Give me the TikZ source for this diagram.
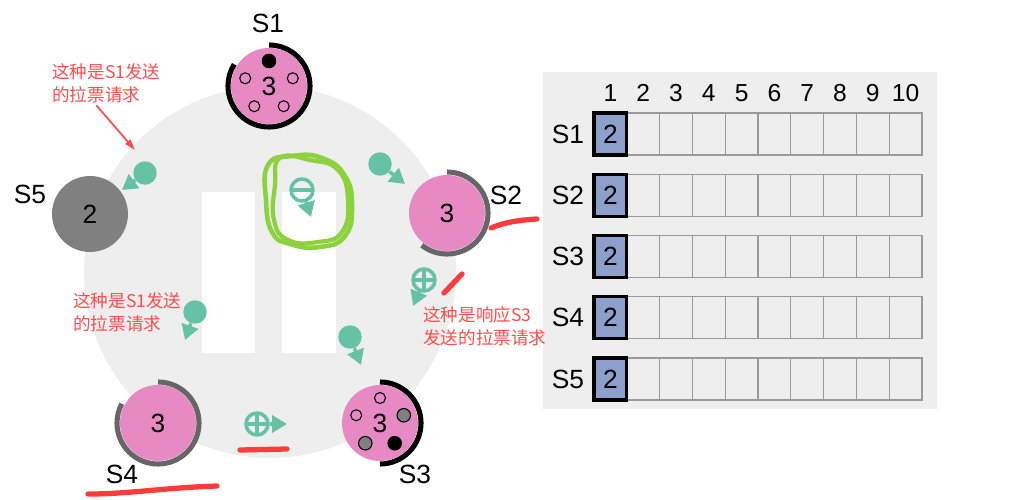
\documentclass[tikz,border=0pt]{standalone}
\usepackage{fontspec}
\setmainfont{Liberation Sans}
\newfontfamily\cjk{Noto Sans CJK SC}
\usetikzlibrary{positioning, arrows.meta}
\definecolor{nodepink}{HTML}{E78AC3}
\definecolor{deadgray}{HTML}{808080}
\definecolor{ringgray}{HTML}{666666}
\definecolor{msggreen}{HTML}{66C2A5}
\definecolor{logblue}{HTML}{8DA0CB}
\definecolor{bgray}{HTML}{EEEEEE}
\definecolor{cellline}{HTML}{999999}
\definecolor{markred}{HTML}{FF3B3B}
\definecolor{notered}{HTML}{FF4D4D}
\definecolor{scribble}{HTML}{8CD23C}
\newcommand\lblfont{\fontsize{15}{18}\selectfont}
\newcommand\hdrfont{\fontsize{14}{17}\selectfont}
\newcommand\notefont{\cjk\fontsize{10}{13}\selectfont}

\begin{document}
\begin{tikzpicture}[x=0.02cm, y=0.02cm,
    server/.style={circle, fill=nodepink, minimum size=1.52cm, inner sep=0pt, font=\lblfont},
    timer/.style={draw=#1, line width=2.9pt},
    vdot/.style={circle, draw=black, line width=0.6pt, fill=#1, minimum size=0.22cm, inner sep=0pt},
    vdotbig/.style={circle, draw=black, line width=0.6pt, fill=#1, minimum size=0.27cm, inner sep=0pt},
    msg/.style={circle, fill=msggreen, minimum size=0.47cm, inner sep=0pt},
    vote/.style={circle, draw=msggreen, line width=2pt, minimum size=0.44cm, inner sep=0pt},
    granted/.style={vote, path picture={
        \draw[msggreen, line width=2pt] (path picture bounding box.north) -- (path picture bounding box.south)
          (path picture bounding box.west) -- (path picture bounding box.east);}},
    denied/.style={vote, path picture={
        \draw[msggreen, line width=2pt] (path picture bounding box.west) -- (path picture bounding box.east);}},
    msgarrow/.style={draw=msggreen, line width=2pt, -{Triangle[length=0.3cm, width=0.34cm]}},
    cell/.style={rectangle, draw=cellline, line width=0.6pt, minimum width=0.656cm, minimum height=0.84cm, inner sep=0pt, outer sep=0pt},
    headcell/.style={cell, fill=logblue, draw=black, line width=1.8pt, font=\lblfont},
    note/.style={text=notered, font=\notefont, align=left, inner sep=0pt, anchor=north west},
    brush/.style={draw=markred, line width=3pt, line cap=round}
  ]
  \useasboundingbox (0,0) rectangle (1011,-500);

  % ring + blocks
  \fill[bgray] (270,-272) circle (186);
  \fill[white] (202,-192) rectangle (255,-353);
  \fill[white] (282,-192) rectangle (336,-353);

  % servers
  \node[server] (s1) at (269,-86) {3};
  \node[server] (s2) at (447,-213) {3};
  \node[server] (s3) at (380,-423) {3};
  \node[server] (s4) at (158,-423) {3};
  \node[server, fill=deadgray] (s5) at (90,-214) {2};

  \draw[timer=black] (s1.center) ++(90:41) arc[start angle=90, end angle=-212, radius=41];
  \draw[timer=ringgray] (s2.center) ++(90:41) arc[start angle=90, end angle=-128, radius=41];
  \draw[timer=black] (s3.center) ++(90:41) arc[start angle=90, end angle=-90, radius=41];
  \draw[timer=ringgray] (s4.center) ++(90:41) arc[start angle=90, end angle=-208, radius=41];

  \node[font=\lblfont] (s1lbl) at (268,-23) {S1};
  \node[font=\lblfont] (s2lbl) at (506,-195) {S2};
  \node[font=\lblfont] (s3lbl) at (415,-474) {S3};
  \node[font=\lblfont] (s4lbl) at (122,-474) {S4};
  \node[font=\lblfont] (s5lbl) at (30,-194) {S5};

  % votes
  \node[vdotbig=black] (s1v1) at ([shift={(90:25)}]s1.center) {};
  \foreach \a [count=\i from 2] in {162,234,306,18}
    \node[vdot=nodepink] (s1v\i) at ([shift={(\a:25)}]s1.center) {};
  \node[vdot=nodepink] (s3v1) at ([shift={(90:25)}]s3.center) {};
  \node[vdot=nodepink] (s3v2) at ([shift={(162:25)}]s3.center) {};
  \node[vdotbig=deadgray] (s3v3) at ([shift={(18:25)}]s3.center) {};
  \node[vdotbig=deadgray] (s3v4) at ([shift={(234:25)}]s3.center) {};
  \node[vdotbig=black] (s3v5) at ([shift={(306:25)}]s3.center) {};

  % messages
  \node[msg] (m1) at (145,-173) {};
  \coordinate (m1tip) at (122,-190);
  \draw[msgarrow] (m1) -- (m1tip);
  \node[msg] (m2) at (380,-164) {};
  \coordinate (m2tip) at (405,-184);
  \draw[msgarrow] (m2) -- (m2tip);
  \node[msg] (m3) at (195,-312) {};
  \coordinate (m3tip) at (185,-340);
  \draw[msgarrow] (m3) -- (m3tip);
  \node[msg] (m4) at (350,-337) {};
  \coordinate (m4tip) at (361,-365);
  \draw[msgarrow] (m4) -- (m4tip);
  \node[granted] (r1) at (424,-280) {};
  \coordinate (r1tip) at (413,-306);
  \draw[msgarrow] (r1) -- (r1tip);
  \node[granted] (r2) at (257,-424) {};
  \coordinate (r2tip) at (287,-424);
  \draw[msgarrow] (r2) -- (r2tip);
  \node[denied] (r3) at (302,-190) {};
  \coordinate (r3tip) at (311,-217);
  \draw[msgarrow] (r3) -- (r3tip);

  % log table
  \fill[bgray] (543,-72) rectangle (937,-409);
  \foreach \c in {1,...,10}
    \node[font=\hdrfont] (h\c) at (577.6+32.8*\c,-93) {\c};
  \foreach \r in {1,...,5} {
    \node[font=\lblfont] (row\r) at (568,{-134-61.25*(\r-1)}) {S\r};
    \foreach \c in {2,...,10}
      \node[cell] (c\r-\c) at (577.6+32.8*\c,{-134-61.25*(\r-1)}) {};
    \node[headcell] (c\r-1) at (610.4,{-134-61.25*(\r-1)}) {2};
  }

  % annotations
  \draw[scribble, line width=2.6pt, line cap=round, line join=round]
    plot[smooth cycle, tension=0.8] coordinates {(268,-165) (292,-156) (322,-158) (345,-176) (352,-206) (345,-236) (320,-247) (290,-244) (272,-232) (266,-200)};
  \draw[scribble, line width=2.4pt, line cap=round, line join=round]
    plot[smooth cycle, tension=0.8] coordinates {(280,-158) (310,-160) (338,-170) (348,-200) (342,-232) (318,-242) (288,-240) (274,-220) (275,-185)};

  \node[note] (note1) at (52,-63) {这种是S1发送\\的拉票请求};
  \node[note] (note2) at (73,-292) {这种是S1发送\\的拉票请求};
  \node[note] (note3) at (423,-306) {这种是响应S3\\发送的拉票请求};
  \coordinate (note1tip) at (135,-150);
  \draw[notered, line width=1pt, -{Triangle[length=0.22cm, width=0.13cm]}] ([xshift=-0.2cm, yshift=-0.05cm]note1.south) -- (note1tip);

  \draw[brush] (491,-228) .. controls (505,-222) and (520,-220) .. (537,-219);
  \draw[brush] (444,-293) -- (462,-274);
  \draw[brush] (240,-450) -- (287,-449);
  \draw[brush] (88,-494) .. controls (130,-494) and (160,-488) .. (217,-486);
\end{tikzpicture}
\end{document}
